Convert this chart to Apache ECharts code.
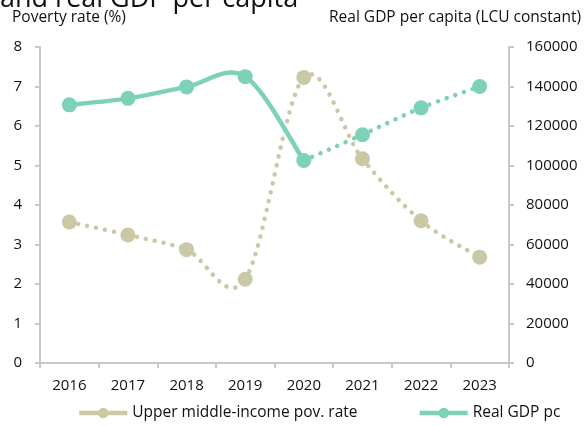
<!DOCTYPE html>
<html>
<head>
<meta charset="utf-8">
<script src="https://cdn.jsdelivr.net/npm/echarts@6/dist/echarts.min.js"></script>
<style>
  html, body { margin: 0; padding: 0; background: #fff; }
  #chart { width: 584px; height: 426px; }
</style>
</head>
<body>
<div id="chart"></div>
<script>
// Years on the category axis
const years = ['2016', '2017', '2018', '2019', '2020', '2021', '2022', '2023'];

// Upper middle-income poverty rate (%)
const povertyRate = [3.57, 3.24, 2.87, 2.12, 7.23, 5.17, 3.60, 2.68];

// Real GDP per capita (LCU constant)
const gdpPerCapita = [130700, 134000, 139800, 145000, 102500, 115600, 129200, 140000];

// Last observed year; later years are projections (drawn dotted)
const lastActualYear = '2020';

// Axis tick values
const povTicks = [0, 1, 2, 3, 4, 5, 6, 7, 8];
const gdpTicks = [0, 20000, 40000, 60000, 80000, 100000, 120000, 140000, 160000];

const cut = years.indexOf(lastActualYear);
const gdpActual = gdpPerCapita.map((v, i) => (i <= cut ? v : null));
const gdpProjected = gdpPerCapita.map((v, i) => (i >= cut ? v : null));

const povColor = '#cbc8a6';
const gdpColor = '#7dd1b8';
const axisGrey = '#c8c8c8';
const font = '"Open Sans", "Noto Sans", sans-serif';
const dash = [0.1, 9];

// Smoothed segment between point i and i+1 (Catmull-Rom style control points)
function curveSeries(values, yAxisIndex, color, dotted) {
  return {
    type: 'custom',
    yAxisIndex: yAxisIndex,
    z: 2,
    silent: true,
    data: values.map((v, i) => [i, v]),
    renderItem: function (params, api) {
      const i = params.dataIndex;
      const n = values.length;
      const has = k => k >= 0 && k < n && values[k] != null;
      if (!has(i) || !has(i + 1)) return null;
      const pt = k => api.coord([k, values[k]]);
      const p1 = pt(i), p2 = pt(i + 1);
      const p0 = has(i - 1) ? pt(i - 1) : p1;
      const p3 = has(i + 2) ? pt(i + 2) : p2;
      return {
        type: 'bezierCurve',
        shape: {
          x1: p1[0], y1: p1[1],
          x2: p2[0], y2: p2[1],
          cpx1: p1[0] + (p2[0] - p0[0]) / 6,
          cpy1: p1[1] + (p2[1] - p0[1]) / 6,
          cpx2: p2[0] - (p3[0] - p1[0]) / 6,
          cpy2: p2[1] - (p3[1] - p1[1]) / 6
        },
        style: {
          fill: null,
          stroke: color,
          lineWidth: 4.5,
          lineDash: dotted ? dash : null,
          lineCap: 'round'
        }
      };
    }
  };
}

const chart = echarts.init(document.getElementById('chart'));

const axisCommon = {
  axisLine: { show: true, lineStyle: { color: axisGrey, width: 2 } },
  axisTick: { show: true, length: 5, lineStyle: { color: axisGrey, width: 2 } },
  splitLine: { show: false }
};

chart.setOption({
  animation: false,
  textStyle: { fontFamily: font },
  graphic: [{
    type: 'text',
    left: 0,
    top: -14,
    style: { text: 'and real GDP per capita', font: '27px ' + font, fill: '#111' }
  }],
  grid: { left: 40, right: 73, top: 47, bottom: 63 },
  legend: {
    bottom: 0,
    left: 72,
    itemWidth: 48,
    itemHeight: 13,
    itemGap: 60,
    lineStyle: { width: 4.5, type: 'solid', opacity: 1 },
    textStyle: { fontSize: 15.5, color: '#111', fontFamily: font },
    data: [
      { name: 'Upper middle-income pov. rate' },
      { name: 'Real GDP pc' }
    ]
  },
  xAxis: Object.assign({
    type: 'category',
    data: years,
    boundaryGap: true,
    axisLabel: { color: '#111', fontSize: 15, margin: 15 }
  }, axisCommon),
  yAxis: [Object.assign({
    type: 'value',
    min: povTicks[0], max: povTicks[povTicks.length - 1], interval: povTicks[1] - povTicks[0],
    name: 'Poverty rate (%)',
    nameLocation: 'end',
    nameGap: 21,
    nameTextStyle: { color: '#111', fontSize: 15.5, align: 'left', padding: [0, 0, 0, -28] },
    axisLabel: { color: '#111', fontSize: 15, margin: 18 }
  }, axisCommon), Object.assign({
    type: 'value',
    min: gdpTicks[0], max: gdpTicks[gdpTicks.length - 1], interval: gdpTicks[1] - gdpTicks[0],
    name: 'Real GDP per capita (LCU constant)',
    nameLocation: 'end',
    nameGap: 21,
    nameTextStyle: { color: '#111', fontSize: 15.5, align: 'right', padding: [0, -72, 0, 0] },
    axisLabel: { color: '#111', fontSize: 15, margin: 17, formatter: v => String(v) }
  }, axisCommon)],
  series: [
    curveSeries(povertyRate, 0, povColor, true),
    curveSeries(gdpActual, 1, gdpColor, false),
    curveSeries(gdpProjected, 1, gdpColor, true),
    {
      name: 'Upper middle-income pov. rate',
      type: 'line',
      yAxisIndex: 0,
      data: povertyRate,
      symbol: 'circle',
      symbolSize: 15,
      z: 3,
      itemStyle: { color: povColor },
      lineStyle: { color: povColor, width: 4.5, opacity: 0 }
    }, {
      name: 'Real GDP pc',
      type: 'line',
      yAxisIndex: 1,
      data: gdpPerCapita,
      symbol: 'circle',
      symbolSize: 15,
      z: 3,
      itemStyle: { color: gdpColor },
      lineStyle: { color: gdpColor, width: 4.5, opacity: 0 }
    }
  ]
});
</script>
</body>
</html>
